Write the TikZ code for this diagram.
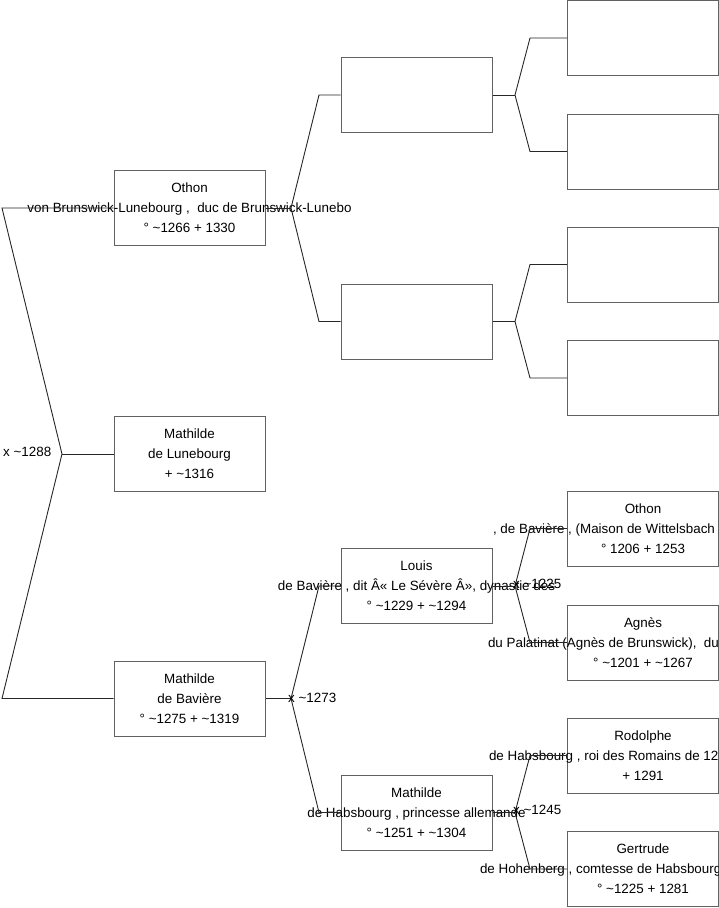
\documentclass[tikz,border=0pt]{standalone}
\usepackage{fontspec}
\setmainfont{Liberation Sans}
\newcommand\zl[1]{\makebox[0pt]{#1}}
\newcommand\zr[2]{\makebox[0pt]{\makebox[#1][l]{#2}}}
\newcommand\tld{\textasciitilde}
\begin{document}
\begin{tikzpicture}[x=1pt,y=-1pt,
  person/.style={draw=black!62, line width=1pt, minimum width=151pt, minimum height=75pt,
    inner sep=0pt, align=center, font=\fontsize{13.4}{20}\selectfont},
  link/.style={draw=black!85, line width=0.9pt},
  marr/.style={anchor=west, inner sep=0pt, font=\fontsize{13.4}{20}\selectfont}]
\useasboundingbox (0,0) rectangle (719,908);
% generation 1
\node[person] (oth) at (189.5,208) {\zl{Othon}\\\zl{von Brunswick-Lunebourg ,\ \ duc de Brunswick-Lunebo}\\\zl{° \tld1266 + 1330}};
\node[person] (mlun) at (189.5,454) {\zl{Mathilde}\\\zl{de Lunebourg}\\\zl{+ \tld1316}};
\node[person] (mbav) at (189.5,698.5) {\zl{Mathilde}\\\zl{de Bavière}\\\zl{° \tld1275 + \tld1319}};
% generation 2
\node[person] (b2a) at (416.5,95) {};
\node[person] (b2b) at (416.5,321.5) {};
\node[person] (lou) at (416.5,586) {\zl{Louis}\\\zl{de Bavière , dit Â« Le Sévère Â», dynastie des}\\\zl{° \tld1229 + \tld1294}};
\node[person] (mhab) at (416.5,812.5) {\zl{Mathilde}\\\zl{de Habsbourg , princesse allemande}\\\zl{° \tld1251 + \tld1304}};
% generation 3
\node[person] (c1) at (643,38) {};
\node[person] (c2) at (643,151.5) {};
\node[person] (c3) at (643,264.5) {};
\node[person] (c4) at (643,378) {};
\node[person] (c5) at (643,528.5) {\zl{Othon}\\\zr{300pt}{, de Bavière , (Maison de Wittelsbach}\\\zl{° 1206 + 1253}};
\node[person] (c6) at (643,642.5) {\zl{Agnès}\\\zr{310pt}{du Palatinat (Agnès de Brunswick),\ \ du}\\\zl{° \tld1201 + \tld1267}};
\node[person] (c7) at (643,755.5) {\zl{Rodolphe}\\\zr{308pt}{de Habsbourg , roi des Romains de 12}\\\zl{+ 1291}};
\node[person] (c8) at (643,869) {\zl{Gertrude}\\\zr{326pt}{de Hohenberg , comtesse de Habsbourg}\\\zl{° \tld1225 + 1281}};
% junction points
\coordinate (a1) at (2,208);
\coordinate (a2) at (2,698.5);
\coordinate (j0) at (62,454);
\coordinate (j1) at (291,208);
\coordinate (j1u) at (319,95);
\coordinate (j1d) at (319,321.5);
\coordinate (j2) at (291,698.5);
\coordinate (j2u) at (319,586);
\coordinate (j2d) at (319,812.5);
\coordinate (k1) at (515,95);
\coordinate (k1u) at (530,38);
\coordinate (k1d) at (530,151.5);
\coordinate (k2) at (515,321.5);
\coordinate (k2u) at (530,264.5);
\coordinate (k2d) at (530,378);
\coordinate (k3) at (515,586);
\coordinate (k3u) at (530,528.5);
\coordinate (k3d) at (530,642.5);
\coordinate (k4) at (515,812.5);
\coordinate (k4u) at (530,755.5);
\coordinate (k4d) at (530,869);
% connectors
\draw[link] (oth.west) -- (a1) -- (j0) -- (a2) -- (mbav.west);
\draw[link] (j0) -- (mlun.west);
\draw[link] (oth.east) -- (j1);
\draw[link] (b2a.west) -- (j1u) -- (j1) -- (j1d) -- (b2b.west);
\draw[link] (mbav.east) -- (j2);
\draw[link] (lou.west) -- (j2u) -- (j2) -- (j2d) -- (mhab.west);
\draw[link] (b2a.east) -- (k1);
\draw[link] (c1.west) -- (k1u) -- (k1) -- (k1d) -- (c2.west);
\draw[link] (b2b.east) -- (k2);
\draw[link] (c3.west) -- (k2u) -- (k2) -- (k2d) -- (c4.west);
\draw[link] (lou.east) -- (k3);
\draw[link] (c5.west) -- (k3u) -- (k3) -- (k3d) -- (c6.west);
\draw[link] (mhab.east) -- (k4);
\draw[link] (c7.west) -- (k4u) -- (k4) -- (k4d) -- (c8.west);
% marriage labels
\node[marr] (m0) at (3,452) {x \tld1288};
\node[marr] (m1) at (288,697.5) {x \tld1273};
\node[marr] (m2) at (513,584) {x \tld1225};
\node[marr] (m3) at (513,810) {x \tld1245};
\end{tikzpicture}
\end{document}
